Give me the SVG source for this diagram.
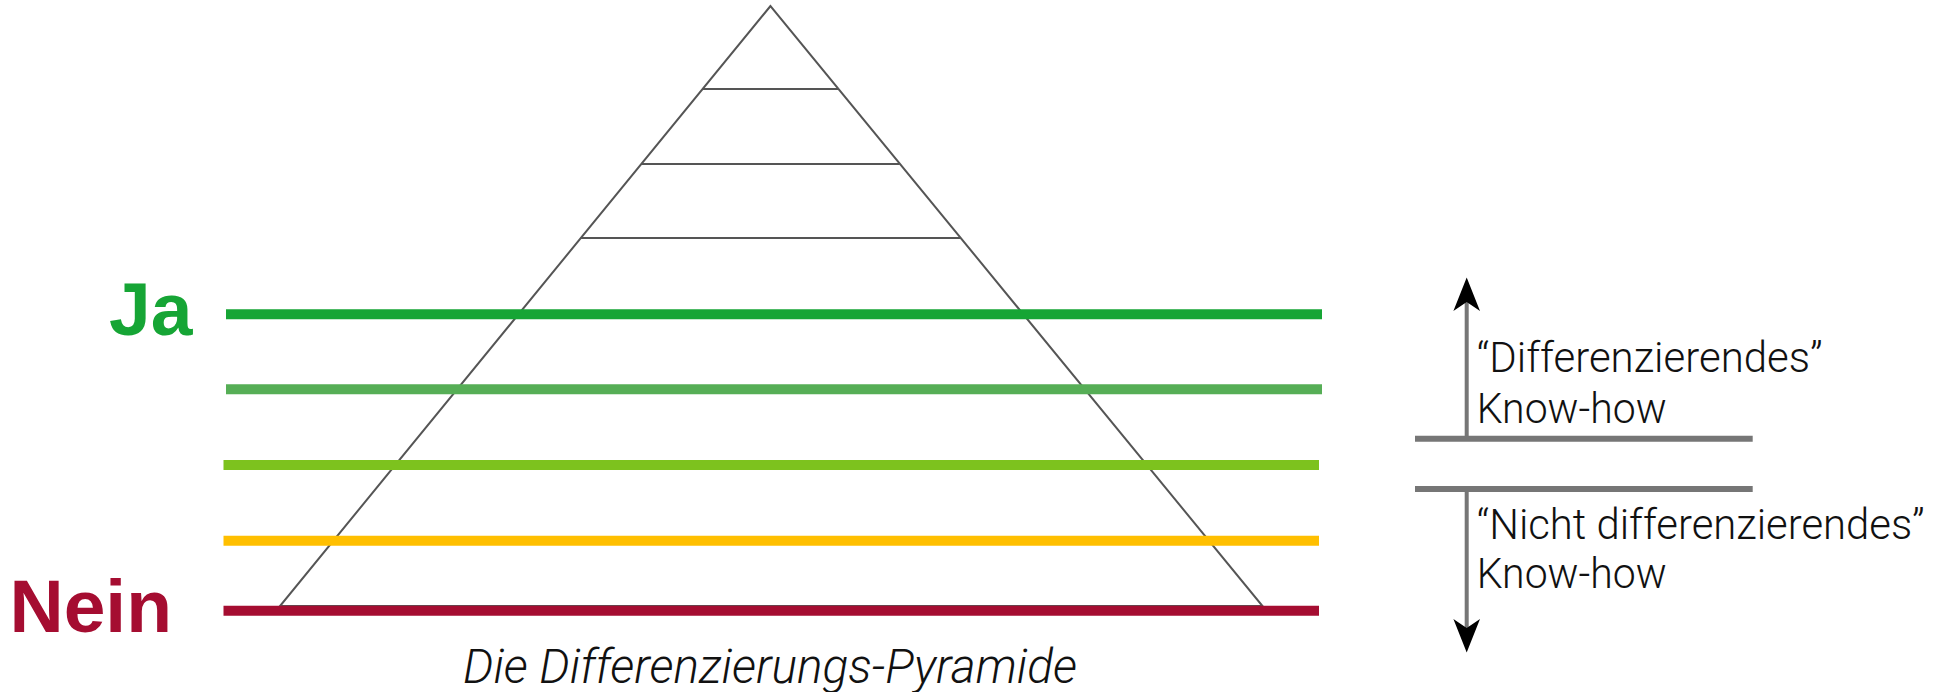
<svg xmlns="http://www.w3.org/2000/svg" width="1948" height="692" viewBox="0 0 1948 692">
  <style>
    .pyr { fill: none; stroke: #555555; stroke-width: 2; }
    .band { stroke-width: 10; fill: none; }
    .lbl { font-family: "Liberation Sans", Arial, sans-serif; font-weight: bold; font-size: 75px; }
    .note { font-family: Roboto, "Liberation Sans", sans-serif; font-weight: 300; font-size: 42px; fill: #111111; }
    .cap { font-family: Roboto, "Liberation Sans", sans-serif; font-weight: 300; font-style: italic; font-size: 48px; fill: #111111; }
    .sep { stroke: #767676; stroke-width: 6; fill: none; }
    .shaft { stroke: #767676; stroke-width: 4; fill: none; }
    .head { fill: #000000; }
  </style>
  <rect width="1948" height="692" fill="#ffffff"/>

  <g id="pyramid">
    <polygon class="pyr" points="770.5,6 280,606 1262.5,606"/>
    <line class="pyr" x1="702.6" y1="89" x2="838.4" y2="89"/>
    <line class="pyr" x1="641.3" y1="164" x2="899.7" y2="164"/>
    <line class="pyr" x1="580.8" y1="238" x2="960.2" y2="238"/>
  </g>

  <g id="bands">
    <line class="band" x1="226" y1="314.3" x2="1322" y2="314.3" stroke="#16A535"/>
    <line class="band" x1="226" y1="389.3" x2="1322" y2="389.3" stroke="#56AE56"/>
    <line class="band" x1="223.5" y1="465" x2="1319" y2="465" stroke="#7DC21E"/>
    <line class="band" x1="223.5" y1="540.7" x2="1319" y2="540.7" stroke="#FFBF00"/>
    <line class="band" x1="223.5" y1="610.7" x2="1319" y2="610.7" stroke="#A50D31"/>
  </g>

  <g id="label-ja">
    <text class="lbl" x="109" y="335" fill="#16A535">Ja</text>
  </g>
  <g id="label-nein">
    <text class="lbl" x="9.5" y="632" fill="#A50D31">Nein</text>
  </g>

  <g id="connectors">
    <line class="sep" x1="1415" y1="438.7" x2="1752.7" y2="438.7"/>
    <line class="sep" x1="1415" y1="489" x2="1752.7" y2="489"/>
    <line class="shaft" x1="1466.7" y1="436" x2="1466.7" y2="302"/>
    <path class="head" d="M1466.7,277.5 L1480,311 L1466.7,302 L1453.4,311 Z"/>
    <line class="shaft" x1="1466.7" y1="492" x2="1466.7" y2="628"/>
    <path class="head" d="M1466.7,652.5 L1480,619 L1466.7,628 L1453.4,619 Z"/>
  </g>

  <g id="upper-note">
    <text class="note" x="1476.7" y="371.7" textLength="346" lengthAdjust="spacingAndGlyphs">“Differenzierendes”</text>
    <text class="note" x="1476.7" y="423.3" textLength="190" lengthAdjust="spacingAndGlyphs">Know-how</text>
  </g>
  <g id="lower-note">
    <text class="note" x="1476.7" y="539.3" textLength="448" lengthAdjust="spacingAndGlyphs">“Nicht differenzierendes”</text>
    <text class="note" x="1476.7" y="588.3" textLength="190" lengthAdjust="spacingAndGlyphs">Know-how</text>
  </g>

  <g id="caption">
    <text class="cap" x="463" y="683.3" textLength="614" lengthAdjust="spacingAndGlyphs">Die Differenzierungs-Pyramide</text>
  </g>
</svg>
